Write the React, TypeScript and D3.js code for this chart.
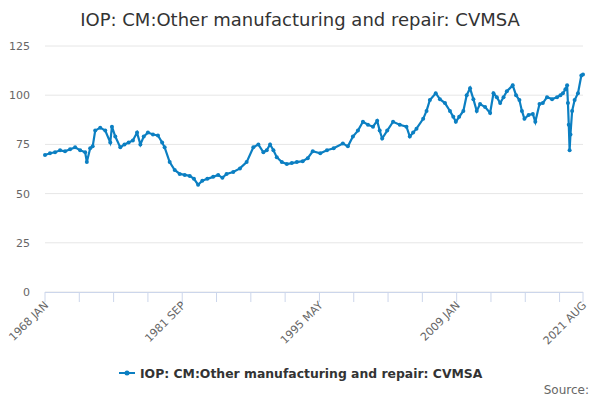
import * as d3 from 'd3';

const title = 'IOP: CM:Other manufacturing and repair: CVMSA';
const startYear = 1968;
const monthNames = ['JAN', 'FEB', 'MAR', 'APR', 'MAY', 'JUN', 'JUL', 'AUG', 'SEP', 'OCT', 'NOV', 'DEC'];

// months since 1968 JAN
const months = [0, 6, 12, 18, 24, 30, 36, 42, 48, 50, 54, 57, 60, 66, 72, 78, 80, 84, 90, 95, 100, 105, 110, 114, 118, 123, 129, 135, 140, 143, 149, 155, 161, 167, 173, 178, 183, 188, 194, 201, 207, 212, 217, 225, 233, 241, 249, 255, 261, 265, 269, 273, 277, 283, 289, 295, 301, 308, 314, 320, 329, 337, 345, 356, 362, 368, 374, 380, 386, 392, 397, 400, 403, 409, 416, 424, 432, 436, 440, 444, 452, 456, 460, 467, 472, 478, 484, 488, 491, 495, 500, 504, 508, 512, 516, 520, 526, 532, 536, 540, 544, 548, 552, 559, 563, 567, 570, 573, 578, 583, 586, 591, 595, 600, 606, 612, 616, 619, 622, 624, 625, 626, 627, 628, 630, 633, 637, 641, 643];
const values = [69.6, 70.5, 71, 72, 71.5, 72.5, 73.5, 72, 71, 66, 73, 74, 82, 83.5, 82, 76, 84, 79, 73.5, 75, 76, 77, 81, 75, 79, 81, 80, 79.5, 76, 73.5, 66, 62, 60, 59.5, 59, 57.5, 54.5, 56.5, 57.5, 58.5, 59.5, 58, 60, 61, 62.8, 66, 73.5, 75, 71, 72, 75, 72, 68.5, 66, 65, 65.5, 66, 66.5, 68, 71.5, 70.5, 72, 73, 75.5, 74, 79, 82, 86.5, 85, 84, 87, 82, 78, 82, 86.5, 85, 84, 79, 81, 83, 88, 92, 97.6, 101, 98, 96, 92, 89, 86.5, 89, 92, 100, 103.5, 98, 92, 95.5, 94, 91, 101, 99, 96, 99, 102, 105, 100, 97.5, 92, 88, 90, 90.5, 86.5, 95.5, 96, 99, 98, 99, 100, 101, 103, 105, 96, 85, 72, 80, 92, 97.5, 101, 110, 110.5];

const W = 600;
const H = 400;
const left = 45;
const right = 583;
const top = 46;
const bottom = 292;
const color = '#0b7fc2';
const font = 'DejaVu Sans, Verdana, sans-serif';

const data = months.map((m, i) => ({ m, v: values[i] }));
const label = (m: number) => `${startYear + Math.floor(m / 12)} ${monthNames[m % 12]}`;

export default function App() {
  const x = d3.scaleLinear().domain([0, 643]).range([left, right]);
  const y = d3.scaleLinear().domain([0, 125]).range([bottom, top]);
  const line = d3.line<{ m: number; v: number }>().x(d => x(d.m)).y(d => y(d.v));
  const yTicks = d3.range(0, 126, 25);
  const xTicks = [...d3.range(0, 643, 41), 643];
  const xLabels = [0, 164, 328, 492, 643];

  return (
    <svg width={W} height={H} style={{ position: 'absolute', left: 0, top: 0, fontFamily: font }}>
      <text x={W / 2} y={26} textAnchor="middle" fontSize={18} fill="#333">{title}</text>
      {yTicks.map(t => (
        <g key={t}>
          <line x1={left} x2={right} y1={y(t)} y2={y(t)} stroke="#e6e6e6" />
          <text x={30} y={y(t) + 4} textAnchor="end" fontSize={11} fill="#666">{t}</text>
        </g>
      ))}
      <line x1={left} x2={right} y1={bottom + 0.5} y2={bottom + 0.5} stroke="#ccd6eb" />
      {xTicks.map(t => (
        <line key={t} x1={x(t)} x2={x(t)} y1={bottom} y2={bottom + 10} stroke="#ccd6eb" />
      ))}
      {xLabels.map(t => (
        <text key={t} transform={`translate(${x(t) + 4},${bottom + 14}) rotate(-45)`} textAnchor="end" fontSize={11} fill="#666">{label(t)}</text>
      ))}
      <path d={line(data) ?? ''} fill="none" stroke={color} strokeWidth={2.2} />
      {data.map((d, i) => (
        <circle key={i} cx={x(d.m)} cy={y(d.v)} r={2} fill={color} />
      ))}
      <line x1={119} x2={135} y1={373} y2={373} stroke={color} strokeWidth={2} />
      <circle cx={127} cy={373} r={2.5} fill={color} />
      <text x={140} y={378} fontSize={12.4} fontWeight="bold" fill="#333">{title}</text>
      <text x={589} y={394} textAnchor="end" fontSize={12} fill="#666">Source:</text>
    </svg>
  );
}
